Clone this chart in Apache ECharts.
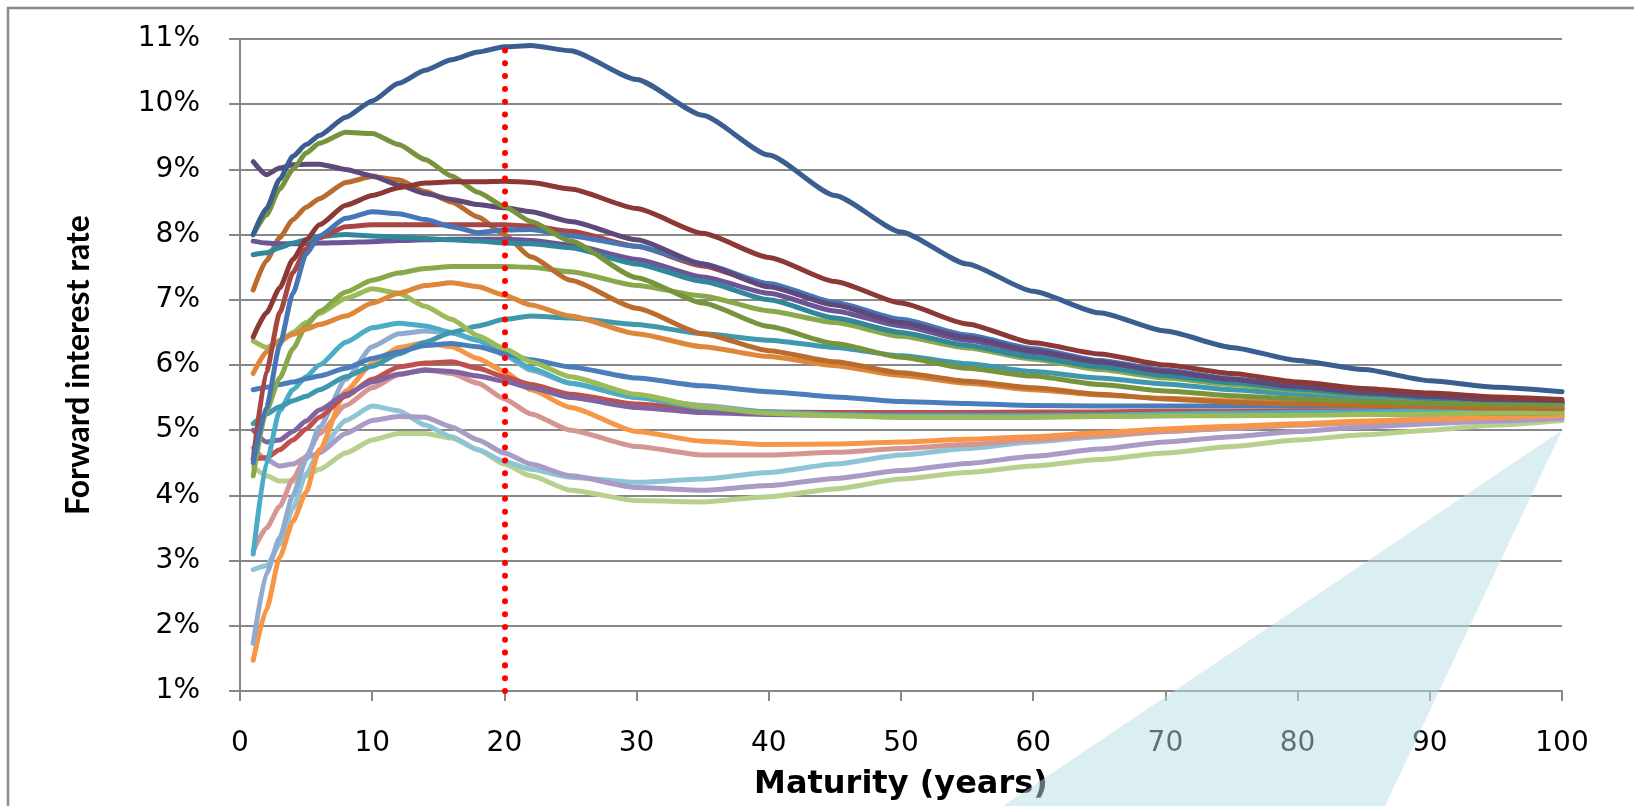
<!DOCTYPE html>
<html><head><meta charset="utf-8">
<script src="https://cdn.jsdelivr.net/npm/echarts@6/dist/echarts.min.js"></script>
<style>html,body{margin:0;padding:0;background:#fff;}#c{width:1634px;height:806px;}</style>
</head><body><div id="c"></div>
<script>
// Maturity (years) at which the curves were read
const maturities = [1,2,3,4,5,6,8,10,12,14,16,18,20,22,25,30,35,40,45,50,55,60,65,70,75,80,85,90,95,100];

// Forward interest rate (%) per scenario
const darkBlue     = [8.0,8.4,8.85,9.2,9.38,9.52,9.8,10.05,10.32,10.52,10.68,10.8,10.88,10.9,10.82,10.38,9.83,9.22,8.6,8.04,7.55,7.13,6.8,6.52,6.27,6.07,5.93,5.76,5.66,5.59];
const darkRed      = [6.43,6.8,7.18,7.62,7.92,8.15,8.45,8.6,8.72,8.79,8.81,8.81,8.82,8.8,8.7,8.4,8.02,7.65,7.28,6.95,6.63,6.34,6.17,6.0,5.87,5.74,5.64,5.57,5.51,5.47];
const olive        = [8.0,8.3,8.7,9.0,9.25,9.4,9.57,9.55,9.38,9.15,8.9,8.65,8.43,8.2,7.9,7.34,6.95,6.59,6.33,6.12,5.95,5.83,5.7,5.6,5.53,5.48,5.44,5.41,5.39,5.38];
const darkPurple   = [9.12,8.92,9.02,9.07,9.08,9.08,9.0,8.9,8.76,8.63,8.54,8.46,8.41,8.35,8.2,7.92,7.55,7.2,6.92,6.65,6.42,6.22,6.05,5.9,5.78,5.67,5.58,5.52,5.47,5.43];
const midBlue      = [4.5,5.35,6.3,7.1,7.7,7.98,8.25,8.35,8.32,8.23,8.12,8.03,8.07,8.08,7.98,7.82,7.55,7.25,6.96,6.7,6.46,6.25,6.07,5.92,5.79,5.68,5.59,5.53,5.48,5.44];
const midRed       = [4.55,5.9,6.8,7.42,7.78,7.95,8.12,8.15,8.15,8.15,8.15,8.15,8.15,8.13,8.05,7.82,7.52,7.22,6.93,6.68,6.44,6.23,6.06,5.91,5.78,5.67,5.58,5.52,5.47,5.43];
const darkTeal     = [7.69,7.72,7.8,7.87,7.92,7.97,8.0,7.98,7.96,7.94,7.92,7.9,7.87,7.86,7.8,7.55,7.28,7.0,6.72,6.5,6.3,6.12,5.97,5.84,5.73,5.63,5.55,5.49,5.44,5.41];
const purple       = [7.9,7.87,7.86,7.86,7.86,7.87,7.88,7.89,7.91,7.92,7.93,7.93,7.93,7.91,7.84,7.62,7.35,7.1,6.83,6.6,6.38,6.19,6.02,5.88,5.76,5.65,5.57,5.51,5.46,5.42];
const brownOrange  = [7.15,7.6,7.95,8.23,8.42,8.55,8.8,8.89,8.84,8.66,8.5,8.27,8.0,7.66,7.3,6.87,6.48,6.22,6.05,5.88,5.75,5.65,5.55,5.48,5.43,5.4,5.38,5.36,5.34,5.33];
const orange       = [5.87,6.2,6.38,6.47,6.55,6.62,6.75,6.95,7.1,7.22,7.26,7.2,7.07,6.92,6.75,6.48,6.28,6.13,5.99,5.84,5.72,5.62,5.54,5.49,5.45,5.42,5.4,5.38,5.36,5.35];
const midGreen     = [4.3,5.3,5.8,6.25,6.6,6.82,7.12,7.3,7.41,7.48,7.51,7.51,7.51,7.5,7.43,7.22,7.06,6.83,6.65,6.44,6.26,6.09,5.93,5.8,5.7,5.61,5.54,5.48,5.43,5.39];
const lightGreen   = [6.37,6.27,6.35,6.5,6.65,6.79,7.02,7.17,7.1,6.9,6.7,6.45,6.25,6.05,5.82,5.55,5.36,5.26,5.22,5.2,5.2,5.2,5.21,5.22,5.22,5.23,5.24,5.25,5.26,5.27];
const blue         = [5.62,5.66,5.7,5.74,5.79,5.83,5.95,6.1,6.2,6.3,6.33,6.28,6.18,6.08,5.97,5.8,5.68,5.59,5.51,5.44,5.41,5.38,5.37,5.37,5.37,5.37,5.37,5.37,5.37,5.37];
const teal         = [5.1,5.25,5.36,5.45,5.52,5.62,5.82,5.98,6.17,6.35,6.5,6.6,6.7,6.75,6.72,6.62,6.48,6.38,6.27,6.14,6.02,5.9,5.8,5.71,5.62,5.55,5.5,5.46,5.43,5.41];
const aqua         = [3.1,4.5,5.3,5.62,5.82,6.0,6.35,6.57,6.64,6.6,6.5,6.38,6.17,5.95,5.72,5.5,5.35,5.28,5.24,5.22,5.22,5.22,5.23,5.25,5.26,5.27,5.28,5.3,5.31,5.32];
const violet       = [5.0,4.82,4.85,4.98,5.14,5.31,5.55,5.74,5.86,5.92,5.9,5.83,5.75,5.65,5.5,5.35,5.27,5.24,5.23,5.23,5.23,5.23,5.23,5.23,5.23,5.24,5.24,5.25,5.26,5.27];
const red          = [4.55,4.58,4.7,4.85,5.02,5.2,5.52,5.78,5.97,6.03,6.05,5.95,5.82,5.7,5.55,5.4,5.32,5.28,5.27,5.27,5.27,5.28,5.28,5.29,5.29,5.3,5.3,5.31,5.31,5.32];
const periwinkle   = [1.73,2.8,3.35,4.0,4.55,5.05,5.78,6.28,6.48,6.52,6.49,6.38,6.15,5.92,5.72,5.5,5.38,5.28,5.23,5.2,5.2,5.2,5.21,5.22,5.23,5.25,5.26,5.28,5.29,5.3];
const brightOrange = [1.47,2.25,3.05,3.6,4.05,4.7,5.6,6.02,6.27,6.34,6.28,6.1,5.9,5.62,5.35,4.98,4.83,4.78,4.79,4.82,4.86,4.9,4.96,5.02,5.06,5.1,5.14,5.17,5.2,5.23];
const pink         = [3.15,3.5,3.83,4.25,4.6,4.95,5.38,5.65,5.85,5.93,5.87,5.72,5.48,5.25,5.0,4.75,4.62,4.62,4.66,4.72,4.78,4.85,4.92,4.98,5.03,5.08,5.12,5.16,5.19,5.22];
const lightPurple  = [4.73,4.55,4.45,4.48,4.58,4.65,4.95,5.15,5.21,5.2,5.05,4.85,4.65,4.48,4.3,4.12,4.08,4.15,4.26,4.38,4.49,4.6,4.71,4.82,4.9,4.98,5.05,5.1,5.14,5.18];
const lightAqua    = [2.86,2.92,3.25,3.8,4.33,4.68,5.15,5.37,5.3,5.08,4.9,4.7,4.52,4.4,4.28,4.2,4.25,4.35,4.48,4.62,4.72,4.82,4.9,4.98,5.03,5.08,5.12,5.15,5.18,5.2];
const paleGreen    = [4.44,4.3,4.22,4.22,4.3,4.4,4.65,4.85,4.95,4.95,4.88,4.7,4.48,4.3,4.08,3.92,3.9,3.98,4.1,4.25,4.35,4.45,4.55,4.65,4.75,4.85,4.93,5.0,5.08,5.15];

const seriesList = [
  ['paleGreen', paleGreen, '#B8D08E'],
  ['lightAqua', lightAqua, '#8DC5D6'],
  ['lightPurple', lightPurple, '#A99BC5'],
  ['pink', pink, '#D59592'],
  ['brightOrange', brightOrange, '#F79646'],
  ['periwinkle', periwinkle, '#91AACF'],
  ['red', red, '#C0504D'],
  ['violet', violet, '#8064A2'],
  ['aqua', aqua, '#4BACC6'],
  ['teal', teal, '#3F98AE'],
  ['blue', blue, '#4A7EBB'],
  ['lightGreen', lightGreen, '#9BBB59'],
  ['midGreen', midGreen, '#88A84A'],
  ['orange', orange, '#DE8739'],
  ['brownOrange', brownOrange, '#BA6C2E'],
  ['purple', purple, '#6B5596'],
  ['darkTeal', darkTeal, '#32889B'],
  ['midRed', midRed, '#A84643'],
  ['midBlue', midBlue, '#4676B5'],
  ['darkPurple', darkPurple, '#5F497A'],
  ['olive', olive, '#77933C'],
  ['darkRed', darkRed, '#8C3836'],
  ['darkBlue', darkBlue, '#3A5E8F']
];

const xTickLabels = ['0','10','20','30','40','50','60','70','80','90','100'];
const markerMaturity = 20;

const chart = echarts.init(document.getElementById('c'), null, {renderer:'canvas', width:1634, height:806});
const gridColor = '#888888';
const labelFont = {fontFamily:'DejaVu Sans', fontSize:28, color:'#000'};

const series = seriesList.map(([name, vals, color]) => ({
  name, type:'line', showSymbol:false, smooth:0.2, smoothMonotone:'x',
  data: maturities.map((m, j) => [m, vals[j]]),
  lineStyle:{width:5, color, cap:'round', join:'round'}, itemStyle:{color},
  emphasis:{disabled:true}, silent:true, animation:false
}));
series[series.length-1].markLine = {
  silent:true, symbol:['none','none'], label:{show:false}, animation:false,
  lineStyle:{color:'#ff0000', width:6, type:[0.01,12.8], cap:'round', opacity:1},
  emphasis:{disabled:true},
  data:[{xAxis: markerMaturity}]
};

chart.setOption({
  animation:false,
  backgroundColor:'#ffffff',
  grid:{left:240, right:72, top:39, bottom:115, containLabel:false},
  xAxis:{
    type:'value', min:0, max:100, interval:10,
    axisLine:{show:true, onZero:false, lineStyle:{color:gridColor, width:2}},
    axisTick:{show:true, length:10, lineStyle:{color:gridColor, width:2}},
    splitLine:{show:false},
    axisLabel:{...labelFont, margin:39, formatter:(v)=> xTickLabels[Math.round(v/10)] ?? String(v)},
    name:'Maturity (years)', nameLocation:'middle', nameGap:78,
    nameTextStyle:{fontFamily:'DejaVu Sans', fontWeight:'bold', fontSize:32, color:'#000'}
  },
  yAxis:{
    type:'value', min:1, max:11, interval:1,
    axisLine:{show:true, lineStyle:{color:gridColor, width:2}},
    axisTick:{show:true, length:11, lineStyle:{color:gridColor, width:2}},
    splitLine:{show:true, lineStyle:{color:gridColor, width:2}},
    axisLabel:{...labelFont, margin:40, formatter:'{value}%'},
    name:'Forward interest rate', nameLocation:'middle', nameGap:145,
    nameTextStyle:{fontFamily:'Lato', fontWeight:'bold', fontSize:32, color:'#000'}
  },
  series
});

const apex = chart.convertToPixel({gridIndex:0}, [100, 5]);
chart.setOption({
  graphic:[
    {type:'rect', silent:true, z:-10, shape:{x:8, y:8, width:2000, height:2000},
     style:{fill:'none', stroke:'#8a8a8a', lineWidth:2.5}},
    {type:'polygon', silent:true, z:100, shape:{points:[apex, [1003,806], [1385,806]]},
     style:{fill:'rgba(183,221,227,0.5)'}}
  ]
});
</script>
</body></html>
